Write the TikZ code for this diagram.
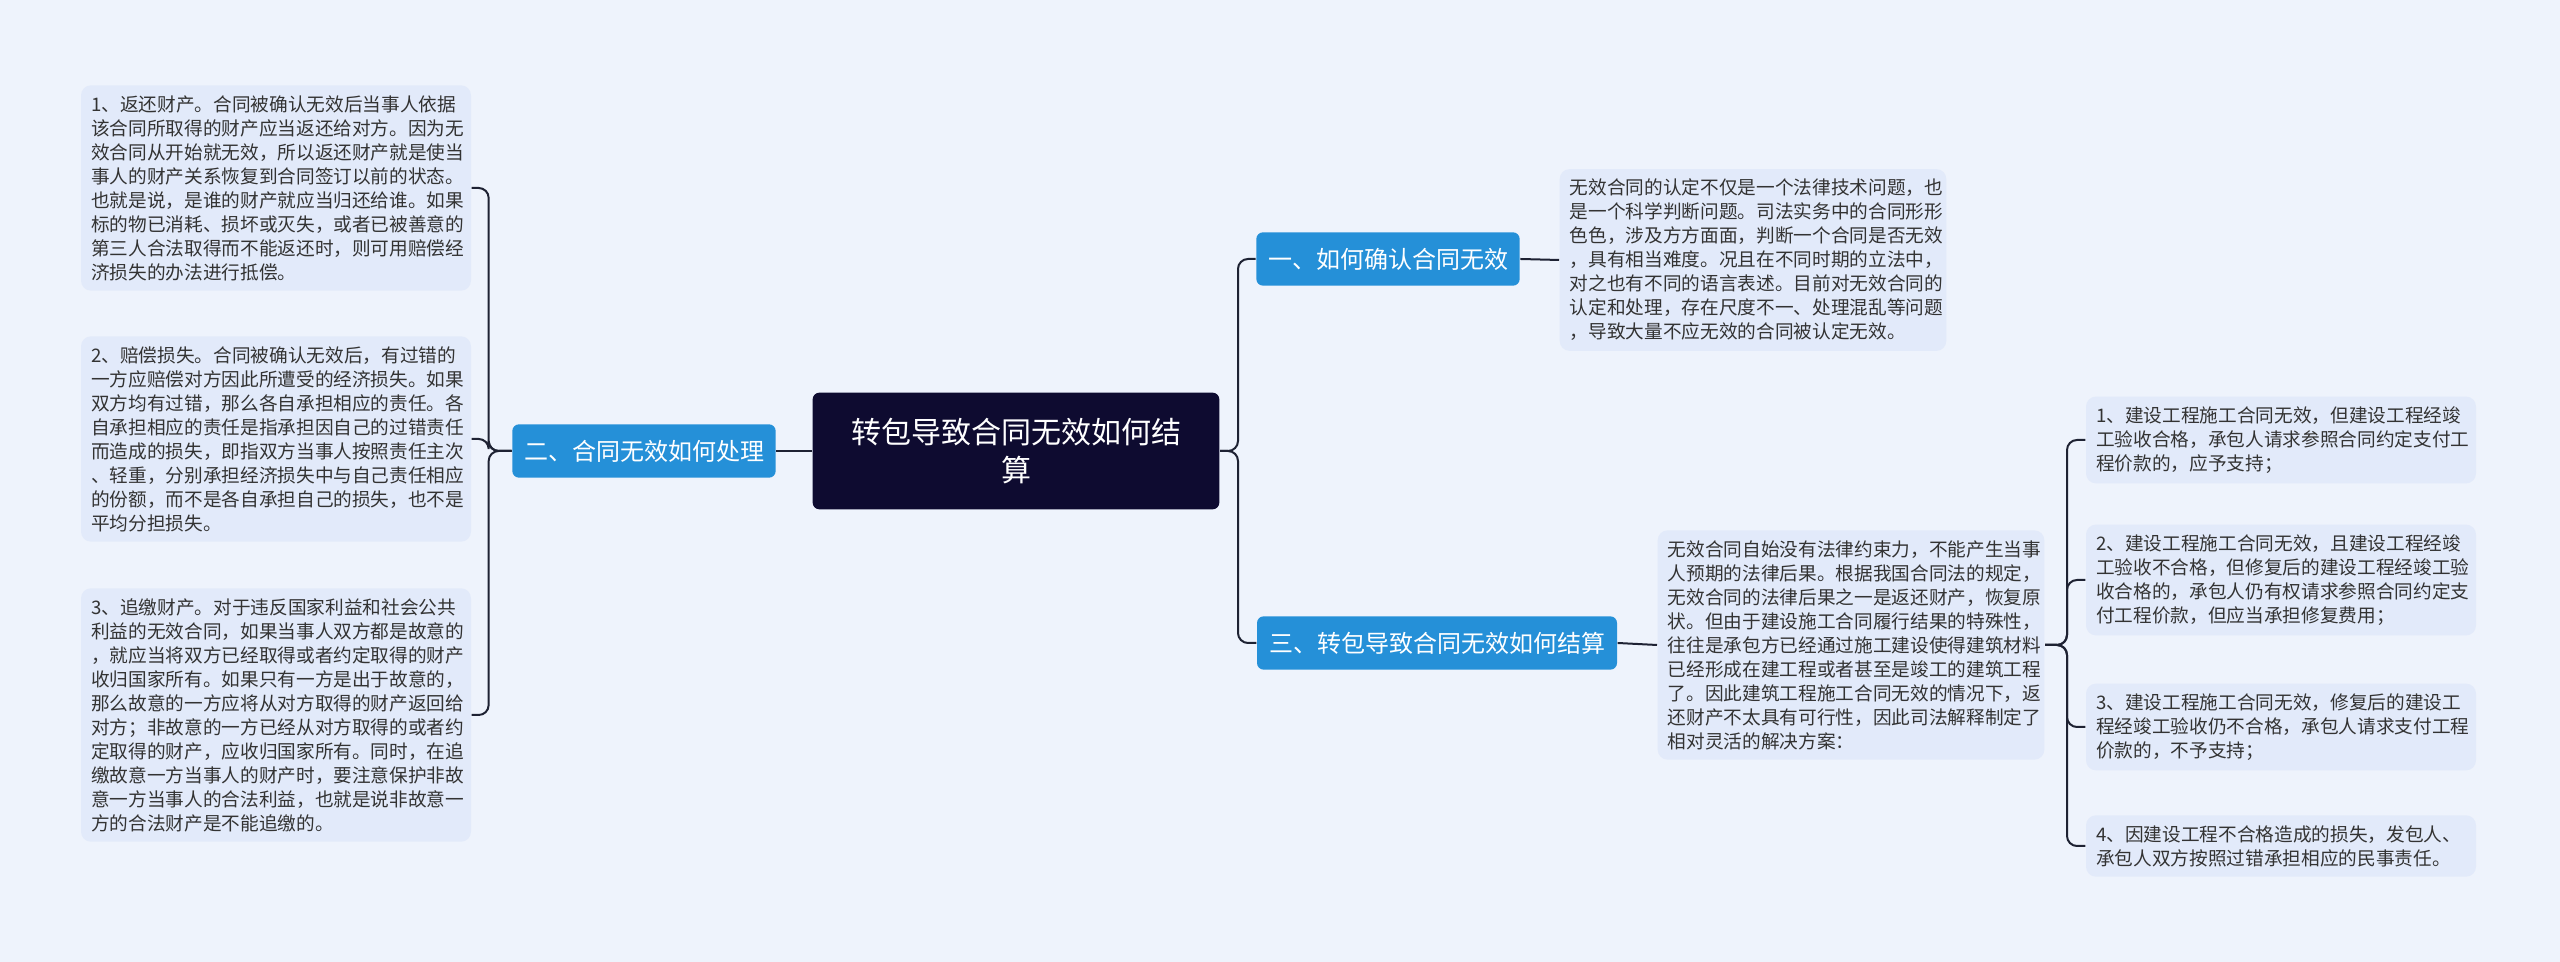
\documentclass[tikz,border=0pt]{standalone}
\usepackage{fontspec}
\setmainfont{Noto Sans CJK SC}
\definecolor{bgcol}{HTML}{EEF3FC}
\definecolor{leafcol}{HTML}{E2EAFA}
\definecolor{branchcol}{HTML}{2590D8}
\definecolor{maincol}{HTML}{0E0B30}
\definecolor{linecol}{HTML}{1E2233}
\definecolor{txtcol}{HTML}{333333}
\tikzset{
  mainbox/.style={fill=maincol, text=white, rounded corners=2pt, inner sep=0pt,
    minimum width=122pt, minimum height=35pt, align=center, font=\fontsize{9}{11.5}\selectfont},
  branchbox/.style={fill=branchcol, text=white, rounded corners=2pt, inner sep=0pt,
    minimum height=16pt, align=center, font=\fontsize{7.2}{9}\selectfont},
  leafbox/.style={fill=leafcol, text=txtcol, rounded corners=3pt, inner xsep=3pt, inner ysep=3pt,
    align=left, font=\fontsize{5.6}{7.2}\selectfont},
  link/.style={draw=linecol, line width=0.6pt, rounded corners=3pt}
}
\begin{document}
\begin{tikzpicture}[x=0.3pt, y=-0.3pt]
  \fill[bgcol] (0,0) rectangle (2560,962);

  % centre
  \node[mainbox] (root) at (1016,451) {转包导致合同无效如何结\\算};

  % left branch
  \node[branchbox, minimum width=79pt] (b2) at (644,451) {二、合同无效如何处理};
  \node[leafbox, text width=111pt] (l1) at (276,188) {1、返还财产。合同被确认无效后当事人依据\\该合同所取得的财产应当返还给对方。因为无\\效合同从开始就无效，所以返还财产就是使当\\事人的财产关系恢复到合同签订以前的状态。\\也就是说，是谁的财产就应当归还给谁。如果\\标的物已消耗、损坏或灭失，或者已被善意的\\第三人合法取得而不能返还时，则可用赔偿经\\济损失的办法进行抵偿。};
  \node[leafbox, text width=111pt] (l2) at (276,439) {2、赔偿损失。合同被确认无效后，有过错的\\一方应赔偿对方因此所遭受的经济损失。如果\\双方均有过错，那么各自承担相应的责任。各\\自承担相应的责任是指承担因自己的过错责任\\而造成的损失，即指双方当事人按照责任主次\\、轻重，分别承担经济损失中与自己责任相应\\的份额，而不是各自承担自己的损失，也不是\\平均分担损失。};
  \node[leafbox, text width=111pt] (l3) at (276,715) {3、追缴财产。对于违反国家利益和社会公共\\利益的无效合同，如果当事人双方都是故意的\\，就应当将双方已经取得或者约定取得的财产\\收归国家所有。如果只有一方是出于故意的，\\那么故意的一方应将从对方取得的财产返回给\\对方；非故意的一方已经从对方取得的或者约\\定取得的财产，应收归国家所有。同时，在追\\缴故意一方当事人的财产时，要注意保护非故\\意一方当事人的合法利益，也就是说非故意一\\方的合法财产是不能追缴的。};

  % right branches
  \node[branchbox, minimum width=79pt] (b1) at (1388,259) {一、如何确认合同无效};
  \node[branchbox, minimum width=108pt] (b3) at (1437,643) {三、转包导致合同无效如何结算};
  \node[leafbox, text width=110pt] (r1) at (1753,260) {无效合同的认定不仅是一个法律技术问题，也\\是一个科学判断问题。司法实务中的合同形形\\色色，涉及方方面面，判断一个合同是否无效\\，具有相当难度。况且在不同时期的立法中，\\对之也有不同的语言表述。目前对无效合同的\\认定和处理，存在尺度不一、处理混乱等问题\\，导致大量不应无效的合同被认定无效。};
  \node[leafbox, text width=110pt] (r3) at (1851,645) {无效合同自始没有法律约束力，不能产生当事\\人预期的法律后果。根据我国合同法的规定，\\无效合同的法律后果之一是返还财产，恢复原\\状。但由于建设施工合同履行结果的特殊性，\\往往是承包方已经通过施工建设使得建筑材料\\已经形成在建工程或者甚至是竣工的建筑工程\\了。因此建筑工程施工合同无效的情况下，返\\还财产不太具有可行性，因此司法解释制定了\\相对灵活的解决方案：};

  % third branch leaves
  \node[leafbox, text width=111pt] (s1) at (2281,440) {1、建设工程施工合同无效，但建设工程经竣\\工验收合格，承包人请求参照合同约定支付工\\程价款的，应予支持；};
  \node[leafbox, text width=111pt] (s2) at (2281,580) {2、建设工程施工合同无效，且建设工程经竣\\工验收不合格，但修复后的建设工程经竣工验\\收合格的，承包人仍有权请求参照合同约定支\\付工程价款，但应当承担修复费用；};
  \node[leafbox, text width=111pt] (s3) at (2281,727) {3、建设工程施工合同无效，修复后的建设工\\程经竣工验收仍不合格，承包人请求支付工程\\价款的，不予支持；};
  \node[leafbox, text width=111pt] (s4) at (2281,846) {4、因建设工程不合格造成的损失，发包人、\\承包人双方按照过错承担相应的民事责任。};

  % connectors
  \draw[link] (root.west) -- (b2.east);
  \foreach \n in {l1,l2,l3}
    \draw[link] (b2.west) -- ++(-23,0) |- (\n.east);
  \foreach \n in {b1,b3}
    \draw[link] (root.east) -- ++(18,0) |- (\n.west);
  \draw[link] (b1.east) -- (r1.west);
  \draw[link] (b3.east) -- (r3.west);
  \foreach \n in {s1,s2,s3,s4}
    \draw[link] (r3.east) -- ++(22,0) |- (\n.west);
\end{tikzpicture}
\end{document}
